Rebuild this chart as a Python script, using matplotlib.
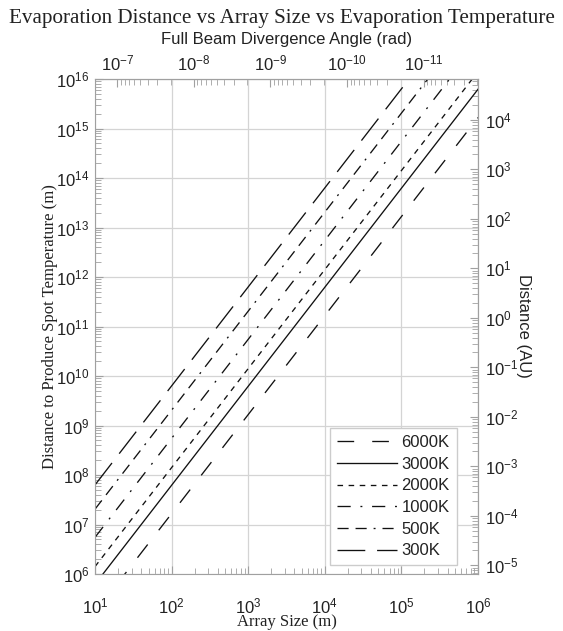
import numpy as np
import matplotlib
matplotlib.use("Agg")
import matplotlib.pyplot as plt
from matplotlib.ticker import LogLocator, NullFormatter, FixedLocator

plt.rcParams['font.family'] = ['Liberation Sans', 'DejaVu Sans']
plt.rcParams['lines.scale_dashes'] = False

# array size (m) at the two ends of each line, distance (m)
array_size = [1e1, 1e6]
dist_6000K = [1.66e5, 1.66e15]
dist_3000K = [6.2e5, 6.2e15]
dist_2000K = [1.41e6, 1.41e16]
dist_1000K = [5.5e6, 5.5e16]
dist_500K = [2.04e7, 2.04e17]
dist_300K = [6.3e7, 6.3e17]

labels = ['6000K', '3000K', '2000K', '1000K', '500K', '300K']
series = [dist_6000K, dist_3000K, dist_2000K, dist_1000K, dist_500K, dist_300K]

# tick values on each axis
size_ticks = [1e1, 1e2, 1e3, 1e4, 1e5, 1e6]
dist_ticks = [10.0 ** p for p in range(6, 17)]
angle_ticks = [1e-7, 1e-8, 1e-9, 1e-10, 1e-11]
au_ticks = [10.0 ** p for p in range(-5, 5)]

# dash patterns in points
styles = [(0, (12, 13)), '-', (0, (4, 4)), (0, (9.5, 7, 1.4, 7)),
          (0, (8, 5, 8, 5, 1.4, 5)), (0, (20, 8.5))]

AU = 1.496e11          # metres per AU
k_div = 1.95e-6        # divergence angle * array size (rad m)

GRAY = '#a0a0a0'
INK = '#222222'


def style_axis(axis, ticks):
    axis.set_major_locator(FixedLocator(ticks))
    axis.set_minor_locator(LogLocator(base=10, subs=np.arange(2, 10), numticks=30))
    axis.set_minor_formatter(NullFormatter())


fig = plt.figure(figsize=(5.63, 6.31), dpi=100)
ax = fig.add_axes([0.1687, 0.0903, 0.6803, 0.7845])

for d, lab, ls in zip(series, labels, styles):
    ax.plot(array_size, d, color='#111111', lw=0.95, linestyle=ls, label=lab)

ax.set_xscale('log')
ax.set_yscale('log')
ax.set_xlim(1e1, 1e6)
ax.set_ylim(1e6, 1e16)
style_axis(ax.xaxis, size_ticks)
style_axis(ax.yaxis, dist_ticks)
ax.grid(True, which='major', color='#d4d4d4', lw=0.9)
for s in ax.spines.values():
    s.set_color(GRAY)
ax.tick_params(which='both', direction='in', colors=GRAY, labelcolor=INK, labelsize=12)
ax.tick_params(axis='x', which='both', pad=16)
ax.tick_params(axis='y', which='both', pad=4)
ax.tick_params(which='major', length=6)
ax.tick_params(which='minor', length=4)

ax.set_xlabel('Array Size (m)', family='Liberation Serif', fontsize=12, color=INK)
ax.xaxis.set_label_coords(0.5, -0.097)
ax.xaxis.label.set_va('center')
ax.set_ylabel('Distance to Produce Spot Temperature (m)', family='Liberation Serif',
              fontsize=12, color=INK)
ax.yaxis.set_label_coords(-0.1175, 0.5)
ax.yaxis.label.set_va('center')

# top axis: beam divergence
top = ax.secondary_xaxis('top', functions=(lambda a: k_div / a, lambda t: k_div / t))
style_axis(top.xaxis, angle_ticks)
top.tick_params(which='both', direction='in', colors=GRAY, labelcolor=INK,
                labelsize=12, pad=4)
top.tick_params(which='major', length=6)
top.tick_params(which='minor', length=4)
top.spines['top'].set_color(GRAY)
top.set_xlabel('Full Beam Divergence Angle (rad)', fontsize=12, color=INK)
top.xaxis.set_label_coords(0.5, 1.0788, transform=ax.transAxes)
top.xaxis.label.set_va('center')

# right axis: AU
right = ax.secondary_yaxis('right', functions=(lambda m: m / AU, lambda au: au * AU))
style_axis(right.yaxis, au_ticks)
right.tick_params(which='both', direction='in', colors=GRAY, labelcolor=INK,
                  labelsize=12, pad=5)
right.tick_params(which='major', length=6)
right.tick_params(which='minor', length=4)
right.spines['right'].set_color(GRAY)
right.set_ylabel('Distance (AU)', fontsize=12, color=INK, rotation=270)
right.yaxis.set_label_coords(1.12, 0.501, transform=ax.transAxes)
right.yaxis.label.set_va('center')

leg = ax.legend(loc='lower right', bbox_to_anchor=(0.944, 0.018), borderaxespad=0,
                fontsize=12, handlelength=3.6, handletextpad=0.3, labelspacing=0.4,
                fancybox=False, framealpha=1, edgecolor='#cccccc')
for t in leg.get_texts():
    t.set_color(INK)

fig.text(0.5, 0.971, 'Evaporation Distance vs Array Size vs Evaporation Temperature',
         ha='center', va='center', family='Liberation Serif', fontsize=15.2, color=INK)

fig.savefig('out.png', dpi=100)
